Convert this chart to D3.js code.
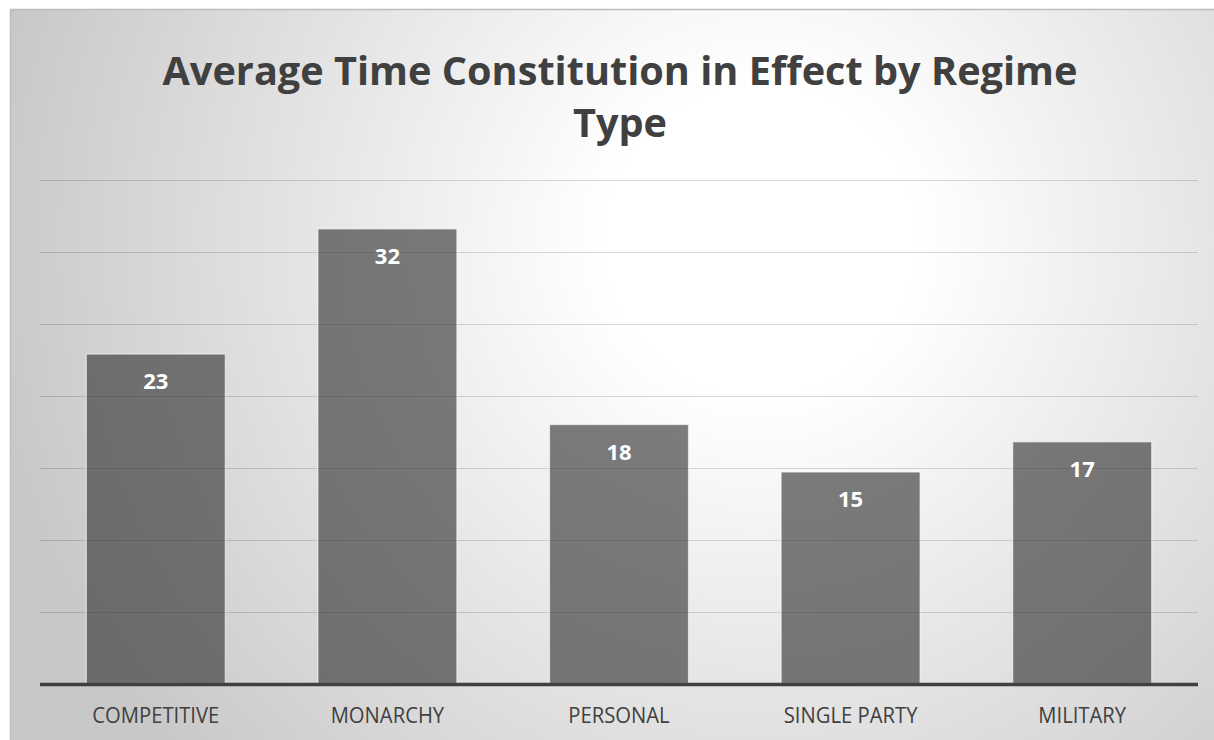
<!DOCTYPE html>
<html>
<head>
<meta charset="utf-8">
<script src="https://cdn.jsdelivr.net/npm/d3@7"></script>
<style>
  html, body { margin: 0; padding: 0; background: #ffffff; }
  svg { display: block; }
</style>
</head>
<body>
<svg id="chart" width="1214" height="740"></svg>
<script>
// Average number of years a constitution stays in effect, by regime type
const categories = ["COMPETITIVE", "MONARCHY", "PERSONAL", "SINGLE PARTY", "MILITARY"];
const years = [22.9, 31.6, 18.0, 14.7, 16.8];
const gridTicks = [5, 10, 15, 20, 25, 30, 35];
const titleLines = ["Average Time Constitution in Effect by Regime", "Type"];

const W = 1214, H = 740;
const frame = { left: 10, top: 9 };
const plot = { left: 40, right: 1198, top: 180, bottom: 683.5 };

const svg = d3.select("#chart");
const defs = svg.append("defs");

// soft radial shading behind the chart
const bg = defs.append("radialGradient")
  .attr("id", "bgGrad")
  .attr("gradientUnits", "userSpaceOnUse")
  .attr("cx", 760).attr("cy", 240).attr("r", 780);
bg.append("stop").attr("offset", "0").attr("stop-color", "#ffffff");
bg.append("stop").attr("offset", "0.2").attr("stop-color", "#ffffff");
bg.append("stop").attr("offset", "1").attr("stop-color", "#c8c8c8");

svg.append("rect")
  .attr("x", frame.left + 0.5).attr("y", frame.top + 0.5)
  .attr("width", W - frame.left + 5).attr("height", H - frame.top + 5)
  .attr("fill", "url(#bgGrad)")
  .attr("stroke", "#bdbdbd").attr("stroke-width", 1.5);

const x = d3.scaleBand()
  .domain(categories)
  .range([plot.left, plot.right])
  .paddingInner(0.4)
  .paddingOuter(0.2);

const y = d3.scaleLinear()
  .domain([0, 35])
  .range([plot.bottom, plot.top]);

// horizontal gridlines
svg.append("g")
  .selectAll("line")
  .data(gridTicks)
  .join("line")
  .attr("x1", plot.left).attr("x2", plot.right)
  .attr("y1", d => Math.round(y(d)) + 0.5)
  .attr("y2", d => Math.round(y(d)) + 0.5)
  .attr("stroke", "#000000")
  .attr("stroke-opacity", 0.15)
  .attr("stroke-width", 1.2);

// bars
svg.append("g")
  .selectAll("rect")
  .data(years)
  .join("rect")
  .attr("x", (d, i) => x(categories[i]))
  .attr("y", d => y(d))
  .attr("width", x.bandwidth())
  .attr("height", d => y(0) - y(d))
  .attr("fill", "#3a3a3a")
  .attr("fill-opacity", 0.66)
  .attr("stroke", "#ffffff")
  .attr("stroke-opacity", 0.6)
  .attr("stroke-width", 1.2);

// value labels inside the bars
const fmt = d3.format(".0f");
svg.append("g")
  .selectAll("text")
  .data(years)
  .join("text")
  .attr("x", (d, i) => x(categories[i]) + x.bandwidth() / 2)
  .attr("y", d => y(d) + 35)
  .attr("text-anchor", "middle")
  .attr("font-family", "'Open Sans', sans-serif")
  .attr("font-weight", "bold")
  .attr("font-size", 22)
  .attr("fill", "#ffffff")
  .text(d => fmt(d));

// baseline
svg.append("line")
  .attr("x1", plot.left).attr("x2", plot.right)
  .attr("y1", y(0) + 1).attr("y2", y(0) + 1)
  .attr("stroke", "#404040")
  .attr("stroke-width", 3.5);

// category axis labels
const xAxis = svg.append("g")
  .attr("transform", `translate(0,${plot.bottom})`)
  .call(d3.axisBottom(x).tickSize(0).tickPadding(0));
xAxis.select(".domain").remove();
xAxis.selectAll("text")
  .attr("y", 39.5)
  .attr("dy", 0)
  .attr("font-family", "'Open Sans', sans-serif")
  .attr("font-size", 22)
  .attr("fill", "#404040")
  .each(function () {
    const t = d3.select(this);
    const w = this.getComputedTextLength();
    t.attr("textLength", w * 0.92).attr("lengthAdjust", "spacingAndGlyphs");
  });

// title (two lines, centred)
const title = svg.append("g")
  .attr("font-family", "'Open Sans', sans-serif")
  .attr("font-weight", "bold")
  .attr("font-size", 40)
  .attr("fill", "#404040")
  .attr("text-anchor", "middle");
const titleY = [85, 137];
let squeeze = 1;
titleLines.forEach((line, i) => {
  const t = title.append("text")
    .attr("x", 620)
    .attr("y", titleY[i])
    .text(line);
  const w = t.node().getComputedTextLength();
  if (i === 0) squeeze = 915 / w;
  t.attr("textLength", w * squeeze).attr("lengthAdjust", "spacingAndGlyphs");
});
</script>
</body>
</html>
